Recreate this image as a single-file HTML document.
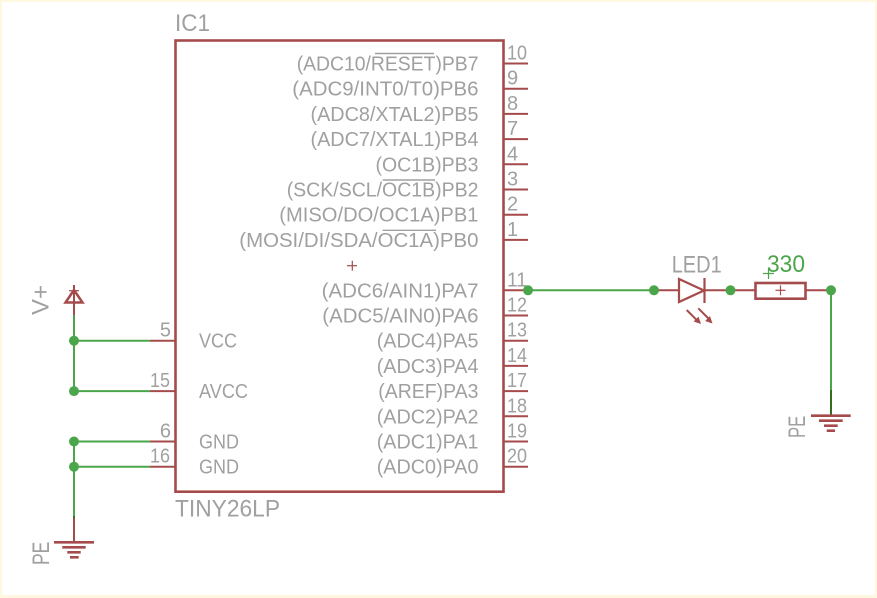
<!DOCTYPE html>
<html><head><meta charset="utf-8"><style>
html,body{margin:0;padding:0;background:#fff8e0;}
svg{display:block;}
text{font-family:"Liberation Sans",sans-serif;}
</style></head><body>
<svg width="877" height="598" viewBox="0 0 877 598" xmlns="http://www.w3.org/2000/svg">
<rect x="0" y="0" width="877" height="598" fill="#fff8e0"/>
<rect x="2" y="2" width="873" height="593" fill="#ffffff"/>

<!-- IC box -->
<rect x="175.5" y="40.5" width="328" height="451.2" fill="none" stroke="#a54b4b" stroke-width="2.6"/>

<g stroke="#a54b4b" stroke-width="2">
<line x1="503" y1="63.5" x2="528" y2="63.5"/>
<line x1="503" y1="88.7" x2="528" y2="88.7"/>
<line x1="503" y1="113.9" x2="528" y2="113.9"/>
<line x1="503" y1="139.1" x2="528" y2="139.1"/>
<line x1="503" y1="164.3" x2="528" y2="164.3"/>
<line x1="503" y1="189.5" x2="528" y2="189.5"/>
<line x1="503" y1="214.7" x2="528" y2="214.7"/>
<line x1="503" y1="239.9" x2="528" y2="239.9"/>
<line x1="503" y1="290.3" x2="528" y2="290.3"/>
<line x1="503" y1="315.5" x2="528" y2="315.5"/>
<line x1="503" y1="340.7" x2="528" y2="340.7"/>
<line x1="503" y1="365.9" x2="528" y2="365.9"/>
<line x1="503" y1="391.1" x2="528" y2="391.1"/>
<line x1="503" y1="416.3" x2="528" y2="416.3"/>
<line x1="503" y1="441.5" x2="528" y2="441.5"/>
<line x1="503" y1="466.7" x2="528" y2="466.7"/>
<line x1="150" y1="340.7" x2="175" y2="340.7"/>
<line x1="150" y1="391.1" x2="175" y2="391.1"/>
<line x1="150" y1="441.5" x2="175" y2="441.5"/>
<line x1="150" y1="466.7" x2="175" y2="466.7"/>
<line x1="347" y1="265.7" x2="357" y2="265.7" stroke-width="1.2"/>
<line x1="352.3" y1="260.7" x2="352.3" y2="270.7" stroke-width="1.2"/>
</g>

<!-- IC labels -->
<g fill="#a0a0a0" font-size="20">
<text x="296.7" y="70.5" textLength="181.8" lengthAdjust="spacingAndGlyphs">(ADC10/RESET)PB7</text>
<text x="292.3" y="95.7" textLength="186.2" lengthAdjust="spacingAndGlyphs">(ADC9/INT0/T0)PB6</text>
<text x="310.5" y="120.9" textLength="168" lengthAdjust="spacingAndGlyphs">(ADC8/XTAL2)PB5</text>
<text x="310.5" y="146.1" textLength="168" lengthAdjust="spacingAndGlyphs">(ADC7/XTAL1)PB4</text>
<text x="375.5" y="171.3" textLength="103" lengthAdjust="spacingAndGlyphs">(OC1B)PB3</text>
<text x="286.7" y="196.5" textLength="191.8" lengthAdjust="spacingAndGlyphs">(SCK/SCL/OC1B)PB2</text>
<text x="279.3" y="221.7" textLength="199.2" lengthAdjust="spacingAndGlyphs">(MISO/DO/OC1A)PB1</text>
<text x="239.3" y="246.9" textLength="239.2" lengthAdjust="spacingAndGlyphs">(MOSI/DI/SDA/OC1A)PB0</text>
<text x="321.7" y="297.3" textLength="156.8" lengthAdjust="spacingAndGlyphs">(ADC6/AIN1)PA7</text>
<text x="322.3" y="322.5" textLength="156.2" lengthAdjust="spacingAndGlyphs">(ADC5/AIN0)PA6</text>
<text x="376.7" y="347.7" textLength="101.8" lengthAdjust="spacingAndGlyphs">(ADC4)PA5</text>
<text x="376.7" y="372.9" textLength="101.8" lengthAdjust="spacingAndGlyphs">(ADC3)PA4</text>
<text x="378.3" y="398.1" textLength="100.2" lengthAdjust="spacingAndGlyphs">(AREF)PA3</text>
<text x="376.7" y="423.3" textLength="101.8" lengthAdjust="spacingAndGlyphs">(ADC2)PA2</text>
<text x="376.7" y="448.5" textLength="101.8" lengthAdjust="spacingAndGlyphs">(ADC1)PA1</text>
<text x="376.7" y="473.7" textLength="101.8" lengthAdjust="spacingAndGlyphs">(ADC0)PA0</text>

<text x="199" y="347.5" textLength="38" lengthAdjust="spacingAndGlyphs">VCC</text>
<text x="199" y="397.9" textLength="49" lengthAdjust="spacingAndGlyphs">AVCC</text>
<text x="199" y="448.3" textLength="40" lengthAdjust="spacingAndGlyphs">GND</text>
<text x="199" y="473.5" textLength="40" lengthAdjust="spacingAndGlyphs">GND</text>

<text x="507" y="59.5" textLength="20" lengthAdjust="spacingAndGlyphs">10</text>
<text x="507" y="84.7">9</text>
<text x="507" y="109.9">8</text>
<text x="507" y="135.1">7</text>
<text x="507" y="160.3">4</text>
<text x="507" y="185.5">3</text>
<text x="507" y="210.7">2</text>
<text x="507" y="235.9">1</text>
<text x="507" y="286.5" textLength="20" lengthAdjust="spacingAndGlyphs">11</text>
<text x="507" y="311.5" textLength="20" lengthAdjust="spacingAndGlyphs">12</text>
<text x="507" y="336.7" textLength="20" lengthAdjust="spacingAndGlyphs">13</text>
<text x="507" y="361.9" textLength="20" lengthAdjust="spacingAndGlyphs">14</text>
<text x="507" y="387.1" textLength="20" lengthAdjust="spacingAndGlyphs">17</text>
<text x="507" y="412.3" textLength="20" lengthAdjust="spacingAndGlyphs">18</text>
<text x="507" y="437.5" textLength="20" lengthAdjust="spacingAndGlyphs">19</text>
<text x="507" y="462.7" textLength="20" lengthAdjust="spacingAndGlyphs">20</text>
<text x="171" y="336.5" text-anchor="end">5</text>
<text x="150" y="386.9" textLength="20" lengthAdjust="spacingAndGlyphs">15</text>
<text x="171" y="437.3" text-anchor="end">6</text>
<text x="150" y="462.5" textLength="20" lengthAdjust="spacingAndGlyphs">16</text>
</g>

<!-- overlines -->
<g stroke="#a0a0a0" stroke-width="1.4">
<line x1="375" y1="53.5" x2="434" y2="53.5"/>
<line x1="382.7" y1="180" x2="435" y2="180"/>
<line x1="382.7" y1="230.3" x2="436" y2="230.3"/>
</g>

<g fill="#a0a0a0" font-size="24">
<text x="175" y="31" textLength="35" lengthAdjust="spacingAndGlyphs">IC1</text>
<text x="175" y="516.7" textLength="105" lengthAdjust="spacingAndGlyphs">TINY26LP</text>
<text x="671.7" y="272.7" textLength="50" lengthAdjust="spacingAndGlyphs">LED1</text>
<text transform="translate(48.5,315) rotate(-90)" x="0" y="0" textLength="30" lengthAdjust="spacingAndGlyphs">V+</text>
<text transform="translate(49,565) rotate(-90)" x="0" y="0" textLength="23.3" lengthAdjust="spacingAndGlyphs">PE</text>
<text transform="translate(805,438) rotate(-90)" x="0" y="0" textLength="22.3" lengthAdjust="spacingAndGlyphs">PE</text>
</g>
<text x="767" y="272" font-size="24" fill="#4ba54b" textLength="38" lengthAdjust="spacingAndGlyphs">330</text>

<!-- green wires -->
<g stroke="#4ba54b" stroke-width="2">
<line x1="74" y1="315" x2="74" y2="391.1"/>
<line x1="74" y1="340.7" x2="150" y2="340.7"/>
<line x1="74" y1="391.1" x2="150" y2="391.1"/>
<line x1="74" y1="441.5" x2="74" y2="516"/>
<line x1="74" y1="441.5" x2="150" y2="441.5"/>
<line x1="74" y1="466.7" x2="150" y2="466.7"/>
<line x1="528" y1="290.3" x2="654" y2="290.3"/>
<line x1="831" y1="290.3" x2="831" y2="390"/>
<line x1="763" y1="273.5" x2="774" y2="273.5" stroke-width="1.2"/>
<line x1="768.5" y1="268" x2="768.5" y2="279" stroke-width="1.2"/>
</g>
<line x1="831" y1="390" x2="831" y2="416" stroke="#336e1e" stroke-width="2"/>
<line x1="74" y1="516" x2="74" y2="518" stroke="#336e1e" stroke-width="2"/>

<!-- red symbol parts -->
<g stroke="#a54b4b" stroke-width="2" fill="none">
<line x1="74" y1="285" x2="74" y2="315"/>
<polygon points="74,290 65.5,302.5 82.5,302.5" stroke-width="2.5"/>
<line x1="69" y1="290.7" x2="79" y2="290.7" stroke-width="1.2"/>
<line x1="74" y1="518" x2="74" y2="542.3"/>
<line x1="54" y1="542.3" x2="94" y2="542.3" stroke-width="2.6"/>
<line x1="62.3" y1="547.3" x2="85.7" y2="547.3" stroke-width="2.6"/>
<line x1="67.3" y1="552.3" x2="80.7" y2="552.3" stroke-width="2.6"/>
<line x1="70" y1="557.3" x2="78.7" y2="557.3" stroke-width="2.6"/>
<line x1="811" y1="415.7" x2="850.7" y2="415.7" stroke-width="2.6"/>
<line x1="819" y1="420.7" x2="842.7" y2="420.7" stroke-width="2.6"/>
<line x1="824" y1="425.7" x2="837.7" y2="425.7" stroke-width="2.6"/>
<line x1="826.7" y1="430.7" x2="835" y2="430.7" stroke-width="2.6"/>
<line x1="654" y1="290.3" x2="679" y2="290.3"/>
<polygon points="679,279 679,302 704,290.5" stroke-width="2.2"/>
<line x1="704.5" y1="278" x2="704.5" y2="303" stroke-width="2.2"/>
<line x1="704.5" y1="290.3" x2="755" y2="290.3"/>
<line x1="686.7" y1="310" x2="697" y2="320.3"/>
<line x1="698.3" y1="308.3" x2="708.5" y2="318.5"/>
<rect x="755.5" y="283" width="50" height="15.7" stroke-width="2.6"/>
<line x1="806" y1="290.3" x2="831" y2="290.3"/>
<line x1="775.5" y1="290.3" x2="785.5" y2="290.3" stroke-width="1.2"/>
<line x1="780.5" y1="285.3" x2="780.5" y2="295.3" stroke-width="1.2"/>
</g>
<g fill="#a54b4b">
<polygon points="701,324 698.5,316.6 693.6,321.5"/>
<polygon points="712.5,323.5 710,316.1 705.1,321"/>
</g>

<!-- junctions -->
<g fill="#4ba54b">
<circle cx="74" cy="340.7" r="5"/>
<circle cx="74" cy="391.1" r="5"/>
<circle cx="74" cy="441.5" r="5"/>
<circle cx="74" cy="466.7" r="5"/>
<circle cx="528" cy="290.3" r="5"/>
<circle cx="654" cy="290.3" r="5"/>
<circle cx="730.5" cy="290.3" r="5"/>
<circle cx="831" cy="290.3" r="5"/>
</g>
</svg>
</body></html>
